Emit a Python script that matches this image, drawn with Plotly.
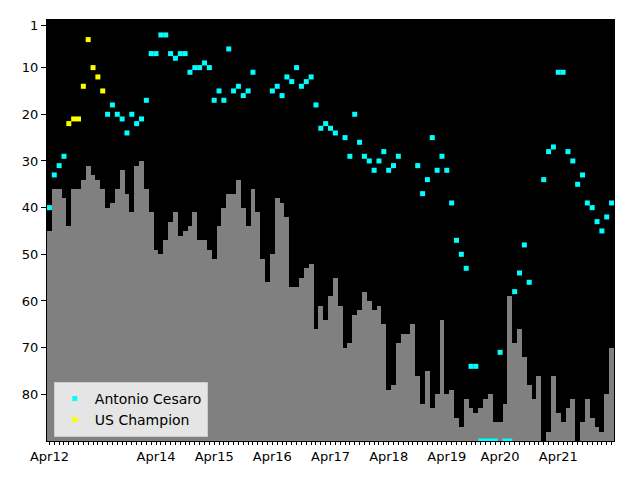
import plotly.graph_objects as go

# Monthly index (categorical positions)
bar_values = [
    45, 36, 36, 38, 44, 36, 36, 34, 31, 33,
    34, 36, 40, 39, 36, 32, 37, 41, 31, 30,
    36, 41, 49, 50, 47, 43, 41, 46, 45, 44,
    41, 47, 47, 49, 51, 44, 40, 37, 37, 34,
    40, 44, 36, 41, 51, 56, 50, 38, 39, 42,
    57, 57, 55, 53, 52, 66, 61, 64, 59, 55,
    61, 70, 69, 63, 62, 58, 60, 62, 61, 65,
    79, 78, 69, 67, 67, 65, 76, 82, 75, 83,
    80, 64, 80, 79, 85, 87, 81, 83, 84, 83,
    81, 80, 86, 86, 82, 59, 69, 66, 72, 78,
    81, 76, None, 88, 76, 84, 86, 83, 81, None,
    86, 81, 85, 87, 88, 80, 70,
]

N = None
cesaro_rank = [
    40, 33, 31, 29, N, N, N, N, N, N,
    N, N, 20, 18, 20, 21, 24, 20, 22, 21,
    17, 7, 7, 3, 3, 7, 8, 7, 7, 11,
    10, 10, 9, 10, 17, 15, 17, 6, 15, 14,
    16, 15, 11, N, N, N, 15, 14, 16, 12,
    13, 10, 14, 13, 12, 18, 23, 22, 23, 24,
    N, 25, 29, 20, 26, 29, 30, 32, 30, 28,
    32, 31, 29, N, N, N, 31, 37, 34, 25,
    32, 29, 32, 39, 47, 50, 53, 74, 74, 90,
    90, 90, 90, 71, 90, 90, 58, 54, 48, 56,
    N, N, 34, 28, 27, 11, 11, 28, 30, 35,
    33, 39, 40, 43, 45, 42, 39,
]

champion_rank = [N] * len(cesaro_rank)
champion_months = [4, 5, 6, 7, 8, 9, 10, 11]
champion_values = [22, 21, 21, 14, 4, 10, 12, 15]
for m, v in zip(champion_months, champion_values):
    champion_rank[m] = v

tick_positions = [0, 22, 34, 46, 58, 70, 82, 93, 105]
tick_labels = ["Apr12", "Apr14", "Apr15", "Apr16", "Apr17", "Apr18", "Apr19", "Apr20", "Apr21"]
y_ticks = [1, 10, 20, 30, 40, 50, 60, 70, 80]

FLOOR = 90
months = list(range(len(bar_values)))

# every month gets a tick; only April entries are labelled
label_map = dict(zip(tick_positions, tick_labels))
all_tick_text = [label_map.get(m, "") for m in months]

fig = go.Figure()
fig.add_trace(go.Bar(
    x=months,
    base=bar_values,
    y=[(FLOOR - v) if v is not None else None for v in bar_values],
    width=1,
    marker=dict(color="#808080", line=dict(width=0)),
    showlegend=False,
    hoverinfo="skip",
))
fig.add_trace(go.Scatter(
    x=months, y=cesaro_rank, mode="markers", name="Antonio Cesaro",
    marker=dict(symbol="square", size=5, color="#00ffff", line=dict(width=0)),
))
fig.add_trace(go.Scatter(
    x=months, y=champion_rank, mode="markers", name="US Champion",
    marker=dict(symbol="square", size=5, color="#ffff00", line=dict(width=0)),
))

fig.update_layout(
    width=640, height=480,
    margin=dict(l=47, r=26, t=20, b=39, pad=0),
    paper_bgcolor="white", plot_bgcolor="black",
    font=dict(family="DejaVu Sans", size=13, color="black"),
    bargap=0,
    legend=dict(
        x=0.012, y=0.010, xanchor="left", yanchor="bottom",
        bgcolor="#e5e5e5", bordercolor="#cccccc", borderwidth=1,
        font=dict(family="DejaVu Sans", size=14, color="black"),
        tracegroupgap=0,
    ),
)
fig.update_xaxes(
    range=[-0.5, len(bar_values) - 0.5],
    tickmode="array", tickvals=months, ticktext=all_tick_text,
    ticks="outside", ticklen=3, tickcolor="black", tickwidth=1,
    showgrid=False, zeroline=False,
    showline=True, linecolor="black", linewidth=1, mirror=True,
)
fig.update_yaxes(
    range=[90, -0.2],
    tickmode="array", tickvals=y_ticks,
    ticks="outside", ticklen=5, tickcolor="black", tickwidth=1,
    showgrid=False, zeroline=False,
    showline=True, linecolor="black", linewidth=1, mirror=True,
)

fig.write_html("out.html")
